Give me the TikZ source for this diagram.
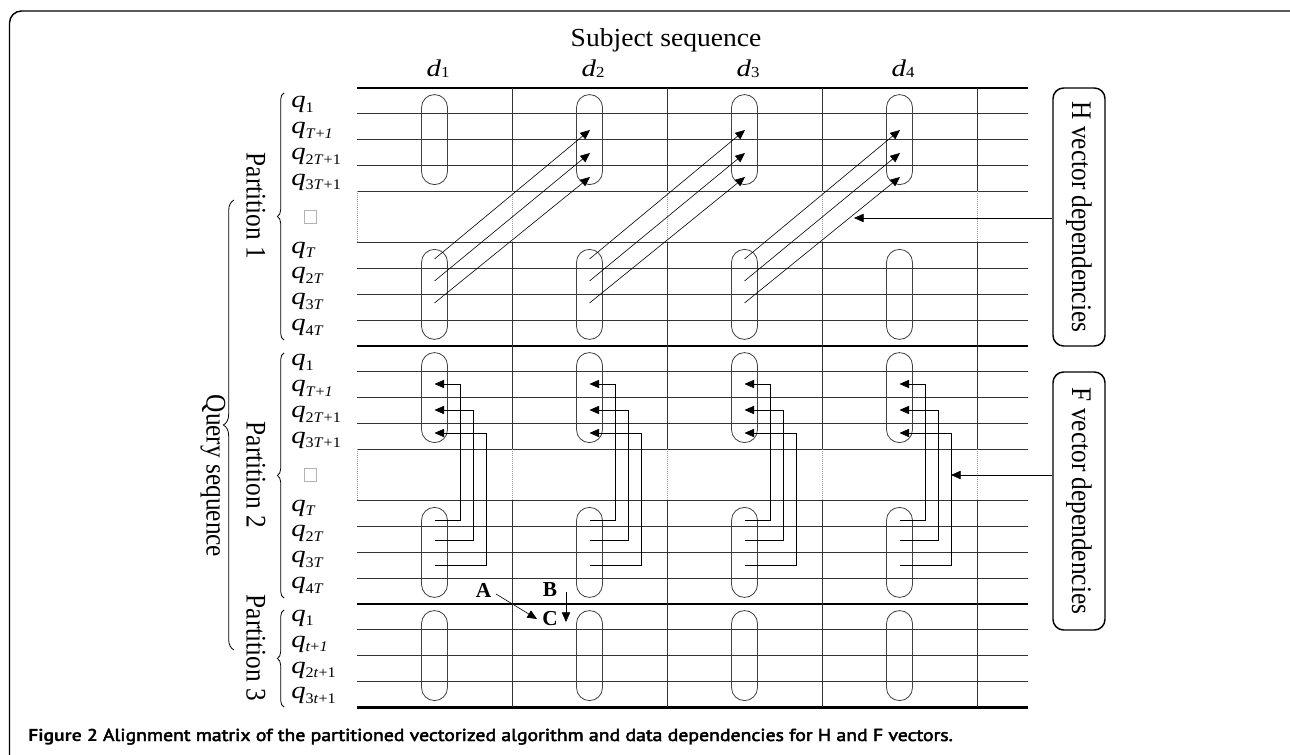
\documentclass[tikz,border=0pt]{standalone}
\usepackage{fontspec}
\usepackage{graphicx}
\setmainfont{Liberation Serif}
\newfontfamily\capfont{PT Sans}[FakeBold=2.5]
\newfontfamily\capbold{PT Sans Bold}
\usetikzlibrary{arrows.meta,decorations.pathreplacing,calc}
\newcommand{\qq}[1]{\scalebox{1.2}[1]{\textit{q}}\raisebox{-3.4pt}{\scalebox{1.1}[1]{\fontsize{11}{11}\selectfont #1}}}
\newcommand{\dd}[1]{\scalebox{1.2}[1]{\textit{d}}\raisebox{-0.8pt}{\scalebox{1.1}[1]{\fontsize{11.5}{11.5}\selectfont #1}}}
\newcommand{\vtxt}[1]{\scalebox{1}[1.12]{#1}}
\tikzset{
  gridline/.style={line width=0.75pt, black!80},
  gridthick/.style={line width=2pt, black},
  gapline/.style={densely dotted, line width=0.5pt, black!40},
  capsule/.style={draw=black!75, line width=0.6pt, rounded corners=9.7pt,
    minimum width=19.5pt, minimum height=67.5pt, inner sep=0pt},
  dep/.style={line width=0.45pt, -{Triangle[length=7.2pt,width=6.2pt]}},
  qlab/.style={inner sep=0pt, anchor=base west, font=\fontsize{18}{18}\selectfont},
  dlab/.style={inner sep=0pt, anchor=base, font=\fontsize{18}{18}\selectfont},
  bigtext/.style={inner sep=0pt, font=\fontsize{19}{19}\selectfont},
  note/.style={draw, line width=1.1pt, rounded corners=8pt, rotate=-90,
    minimum width=193.5pt, minimum height=39pt, inner sep=0pt,
    font=\fontsize{19}{19}\selectfont},
  abc/.style={inner sep=0pt, font=\fontsize{16}{16}\selectfont\bfseries},
  bracelabel/.style={decorate, line width=0.6pt},
  frame/.style={line width=1.1pt, rounded corners=9pt},
  miss/.style={draw=black!30, line width=0.6pt, minimum width=9pt, minimum height=9.75pt, inner sep=0pt}
}
\begin{document}
\begin{tikzpicture}[x=0.75pt,y=-0.75pt]
\clip (0,0) rectangle (1290,755);
\draw[frame] (9.5,11) rectangle (1302,768);

% ---- grid: horizontal lines
\foreach \i in {1,2,3,4,6,7,8,9,11,12,13,14,16,17,18,19,21,22,23}
  \draw[gridline] (357,{88+25.8*\i}) -- (1028,{88+25.8*\i});
\foreach \i in {0,10,20,24}
  \draw[gridthick] (357,{88+25.8*\i}) -- (1028,{88+25.8*\i});
% ---- grid: vertical lines
\foreach \x in {512,667,822,977}{
  \draw[gridline] (\x,88) -- (\x,191.2);
  \draw[gridline] (\x,242.8) -- (\x,449.2);
  \draw[gridline] (\x,500.8) -- (\x,707.2);
}
\foreach \x in {357,512,667,822,977}{
  \draw[gapline] (\x,191.2) -- (\x,242.8);
  \draw[gapline] (\x,449.2) -- (\x,500.8);
}

% ---- capsules
\foreach \c in {1,2,3,4}{
  \foreach \g/\y in {1/139.6,2/294.4,3/397.6,4/552.4,5/655.6}{
    \node[capsule] (cap\c g\g) at ({434.5+155*(\c-1)},\y) {};
  }
}

% ---- titles
\node[bigtext, font=\fontsize{19.5}{19.5}\selectfont] (subj) at (666,40) {\scalebox{1.06}[1]{Subject sequence}};
\foreach \c in {1,2,3,4}
  \node[dlab] (d\c) at ({438+155*(\c-1)},76.5) {\dd{\c}};

% ---- row labels
\foreach \i/\s in {0/1, 1/{\textit{T}+\textit{1}}, 2/{2\textit{T}+1}, 3/{3\textit{T}+1}}
  \node[qlab] (qa\i) at (291,{88+25.8*(\i+0.5)+7}) {\qq{\s}};
\foreach \i/\s in {6/{\textit{T}}, 7/{2\textit{T}}, 8/{3\textit{T}}, 9/{4\textit{T}}}
  \node[qlab] (qb\i) at (291,{88+25.8*(\i+0.5)-2.5}) {\qq{\s}};
\foreach \i/\s in {10/1, 11/{\textit{T}+\textit{1}}, 12/{2\textit{T}+1}, 13/{3\textit{T}+1}}
  \node[qlab] (qc\i) at (291,{88+25.8*(\i+0.5)+7}) {\qq{\s}};
\foreach \i/\s in {16/{\textit{T}}, 17/{2\textit{T}}, 18/{3\textit{T}}, 19/{4\textit{T}}}
  \node[qlab] (qd\i) at (291,{88+25.8*(\i+0.5)-2.5}) {\qq{\s}};
\foreach \i/\s in {20/1, 21/{\textit{t}+\textit{1}}, 22/{2\textit{t}+1}, 23/{3\textit{t}+1}}
  \node[qlab] (qe\i) at (291,{88+25.8*(\i+0.5)+4.5}) {\qq{\s}};
\node[miss] (sq1) at (310,217) {};
\node[miss] (sq2) at (310,475) {};

% ---- braces and partition labels
\draw[bracelabel, decoration={brace, amplitude=5pt}] (284,340) -- (284,93);
\draw[bracelabel, decoration={brace, amplitude=5pt}] (284,598) -- (284,353);
\draw[bracelabel, decoration={brace, amplitude=5pt}] (284,707) -- (284,610);
\draw[bracelabel, decoration={brace, amplitude=8pt}] (234,650) -- (234,200);
\node[bigtext, rotate=-90] (p1) at (256,206) {\vtxt{Partition 1}};
\node[bigtext, rotate=-90] (p2) at (256,475) {\vtxt{Partition 2}};
\node[bigtext, rotate=-90] (p3) at (256,648) {\vtxt{Partition 3}};
\node[bigtext, rotate=-90] (qs) at (213,476) {\vtxt{Query sequence}};

% ---- H vector dependencies
\foreach \c in {1,2,3}{
  \foreach \j/\ys/\ye in {1/259/130, 2/281/153, 3/303/177}{
    \coordinate (hs\c\j) at ({434.5+155*(\c-1)},\ys);
    \coordinate (he\c\j) at ({434.5+155*\c+0.5},\ye);
    \draw[dep] (hs\c\j) -- (he\c\j);
  }
}
% ---- F vector dependencies
\foreach \c in {1,2,3,4}{
  \foreach \j/\ys/\ye/\o in {1/520/384/25.5, 2/540/410/38.5, 3/565/433/51.5}{
    \coordinate (fs\c\j) at ({434.5+155*(\c-1)},\ys);
    \coordinate (fe\c\j) at ({434.5+155*(\c-1)},\ye);
    \coordinate (fk\c\j) at ({434.5+155*(\c-1)+\o},\ye);
    \draw[dep] (fs\c\j) -| (fk\c\j) -- (fe\c\j);
  }
}

% ---- note boxes
\node[note] (Hbox) at (1079,217) {\vtxt{H vector dependencies}};
\node[note] (Fbox) at (1079,501) {\vtxt{F vector dependencies}};
\coordinate (Ha) at (854,218);
\coordinate (Fa) at (951,475);
\draw[dep] (Hbox.south |- Ha) -- (Ha);
\draw[dep] (Fbox.south |- Fa) -- (Fa);

% ---- A B C
\node[abc] (A) at (483.5,590) {A};
\node[abc] (B) at (550,590) {B};
\node[abc] (C) at (550,619) {C};
\coordinate (As) at (496,594);
\coordinate (Ae) at (537,619);
\coordinate (Bs) at (566,592);
\coordinate (Be) at (566,622);
\draw[dep] (As) -- (Ae);
\draw[dep] (Bs) -- (Be);

% ---- caption
\node[inner sep=0pt, anchor=base west, font=\fontsize{13}{13}\selectfont] (cap) at (28,741)
  {\scalebox{1.14}[1]{{\capbold Figure 2} \capfont Alignment matrix of the partitioned vectorized algorithm and data dependencies for H and F vectors.}};
\end{tikzpicture}
\end{document}
